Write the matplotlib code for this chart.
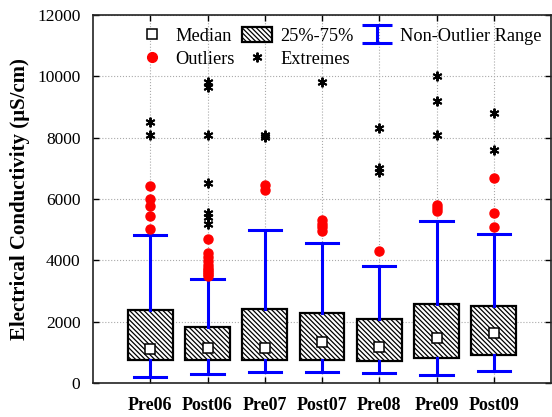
import matplotlib.pyplot as plt
from matplotlib.path import Path
from matplotlib.patches import Patch
from matplotlib.lines import Line2D

plt.rcParams['font.family'] = ['Liberation Serif', 'DejaVu Serif']
plt.rcParams['hatch.linewidth'] = 0.9

groups = ["Pre06", "Post06", "Pre07", "Post07", "Pre08", "Pre09", "Post09"]
q1 = [740, 740, 740, 740, 710, 815, 925]
medians = [1120, 1150, 1150, 1350, 1160, 1470, 1630]
q3 = [2380, 1815, 2420, 2270, 2075, 2585, 2520]
whis_lo = [200, 290, 370, 370, 340, 260, 390]
whis_hi = [4815, 3400, 4990, 4575, 3805, 5295, 4870]
outliers = [
    [5020, 5450, 5780, 6000, 6430],
    [3480, 3560, 3630, 3700, 3750, 3850, 3990, 4100, 4230, 4700],
    [6290, 6450],
    [4950, 5100, 5200, 5300],
    [4320],
    [5600, 5700, 5810],
    [5100, 5530, 6700],
]
extremes = [
    [8090, 8500],
    [5200, 5400, 5530, 6510, 8090, 9650, 9800],
    [8030, 8100],
    [9820],
    [6880, 7000, 8300],
    [8100, 9200, 10010],
    [7600, 8800],
]

fig = plt.figure(figsize=(5.52, 4.17), dpi=100)
ax = fig.add_axes([93 / 552, 34 / 417, 458 / 552, 368 / 417])

pos = list(range(1, len(groups) + 1))
stats = []
for i in range(len(groups)):
    stats.append(dict(med=medians[i], q1=q1[i], q3=q3[i],
                      whislo=whis_lo[i], whishi=whis_hi[i], fliers=[]))

hatch = '\\' * 7
ax.bxp(stats, positions=pos, widths=0.78, capwidths=0.56, patch_artist=True,
       showfliers=False,
       boxprops=dict(facecolor='white', edgecolor='black', linewidth=1.6,
                     hatch=hatch),
       whiskerprops=dict(color='blue', linewidth=2.2),
       capprops=dict(color='blue', linewidth=2.2),
       medianprops=dict(linewidth=0))

ax.plot(pos, medians, 's', ms=6.5, mfc='white', mec='black', mew=1.1,
        linestyle='none', zorder=5)

for i, p in enumerate(pos):
    ax.plot([p] * len(outliers[i]), outliers[i], 'o', color='red', ms=6.5,
            linestyle='none', zorder=4)
    ax.plot([p] * len(extremes[i]), extremes[i], marker=(6, 2, 0), color='black',
            ms=7, mew=1.4, linestyle='none', zorder=4)

ax.set_xlim(0, 8)
ax.set_ylim(0, 12000)
ax.set_xticks(pos)
ax.set_xticklabels(groups, fontweight='bold', fontsize=13)
ax.set_yticks(range(0, 12001, 2000))
ax.tick_params(axis='y', labelsize=12.5, pad=9)
ax.tick_params(axis='x', pad=10)
ax.tick_params(direction='in', length=4, width=1, top=True, right=True)
ax.grid(True, linestyle=':', color='#aaaaaa', linewidth=0.8)
ax.set_axisbelow(True)
for s in ax.spines.values():
    s.set_linewidth(1.2)
    s.set_color('#222222')

ax.set_ylabel("Electrical Conductivity (\u00b5S/cm)", fontweight='bold',
              fontsize=15, labelpad=5)

range_path = Path([(-1, 0.6), (1, 0.6), (0, 0.6), (0, -0.6), (-1, -0.6), (1, -0.6)],
                  [Path.MOVETO, Path.LINETO, Path.MOVETO, Path.LINETO,
                   Path.MOVETO, Path.LINETO])
handles = [
    Line2D([], [], marker='s', ms=7, mfc='white', mec='black', mew=1.1, linestyle='none'),
    Line2D([], [], marker='o', ms=7, color='red', linestyle='none'),
    Patch(facecolor='white', edgecolor='black', linewidth=1.6, hatch=hatch),
    Line2D([], [], marker=(6, 2, 0), ms=7, mew=1.4, color='black', linestyle='none'),
    Line2D([], [], marker=range_path, ms=22, mew=2.2, color='blue', fillstyle='none',
           linestyle='none'),
]
labels = ["Median", "Outliers", "25%-75%", "Extremes", "Non-Outlier Range"]
ax.legend(handles, labels, ncol=3, frameon=False, fontsize=13.2,
          loc='upper left', bbox_to_anchor=(137 / 552, 1 - 27 / 417),
          bbox_transform=fig.transFigure, borderpad=0, borderaxespad=0,
          handlelength=1.65, handleheight=0.9, handletextpad=0.45,
          columnspacing=0.4, labelspacing=0.3)

fig.savefig("out.png", dpi=100)
